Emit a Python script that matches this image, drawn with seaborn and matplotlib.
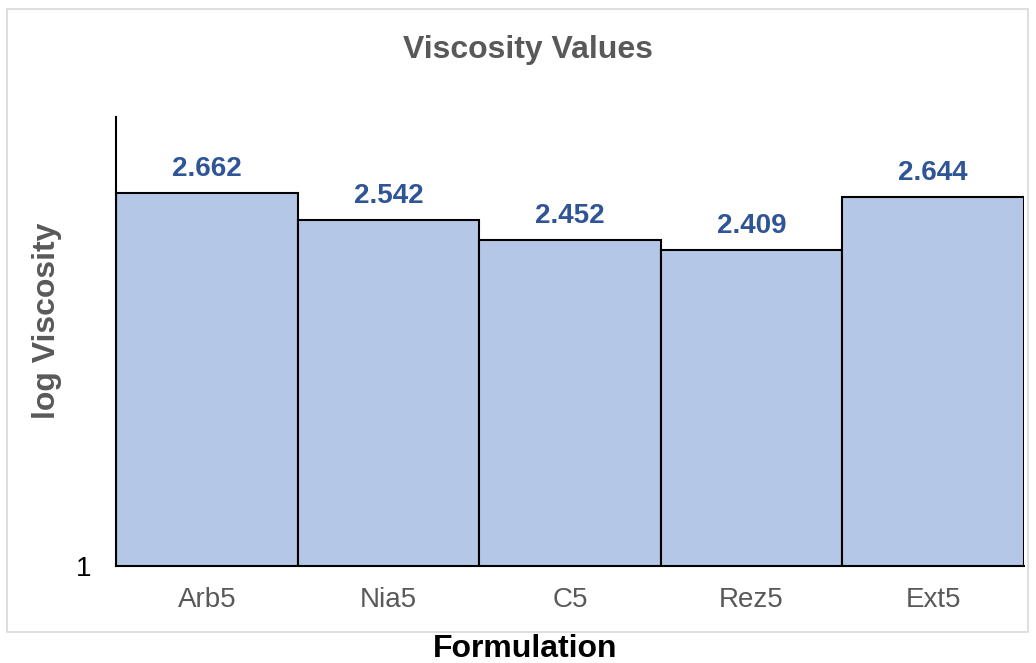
import pandas as pd
import matplotlib.pyplot as plt
import matplotlib.patches as mpatches
import seaborn as sns

# Chart data
formulations = ['Arb5', 'Nia5', 'C5', 'Rez5', 'Ext5']
log_viscosity = [2.662, 2.542, 2.452, 2.409, 2.644]

df = pd.DataFrame({'Formulation': formulations, 'log Viscosity': log_viscosity})

sns.set_style('white')
plt.rcParams['font.family'] = ['Liberation Sans', 'DejaVu Sans']

fig = plt.figure(figsize=(10.36, 6.63), dpi=100)
ax = fig.add_axes([116 / 1036, 1 - 566 / 663, 908 / 1036, 449 / 663])

sns.barplot(x='Formulation', y='log Viscosity', data=df, color='#B4C7E7',
            width=1.0, edgecolor='black', linewidth=1.5, saturation=1, ax=ax)

ax.set_ylim(1, 3)
ax.set_xlim(-0.5, 4.5)
ax.set_yticks([1])
ax.set_yticklabels(['1'], fontsize=20, color='black')
ax.tick_params(axis='y', length=0, pad=18)
ax.tick_params(axis='x', length=0, labelsize=20, labelcolor='#595959', pad=15)

for s in ['top', 'right']:
    ax.spines[s].set_visible(False)
for s in ['left', 'bottom']:
    ax.spines[s].set_color('black')
    ax.spines[s].set_linewidth(1.5)

# value labels above bars
for i, v in enumerate(log_viscosity):
    ax.annotate(f'{v:.3f}', (i, v), xytext=(0, 17), textcoords='offset points',
                ha='center', va='center', fontsize=20, fontweight='bold',
                color='#2F5597')

ax.set_xlabel('')
ax.set_ylabel('')
fig.text(528 / 1036, 1 - 50 / 663, 'Viscosity Values', ha='center', va='center',
         fontsize=23, fontweight='bold', color='#595959')
fig.text(47 / 1036, 1 - 321 / 663, 'log Viscosity', ha='center', va='center',
         rotation=90, fontsize=23, fontweight='bold', color='#595959')
fig.text(525 / 1036, 1 - 649 / 663, 'Formulation', ha='center', va='center',
         fontsize=23, fontweight='bold', color='black')

# chart-area border
fig.patches.append(mpatches.Rectangle((7 / 1036, 1 - 632 / 663), 1021 / 1036, 623 / 663,
                                      transform=fig.transFigure, fill=False,
                                      edgecolor='#D9D9D9', linewidth=1.2))

fig.savefig('out.png', dpi=100)
